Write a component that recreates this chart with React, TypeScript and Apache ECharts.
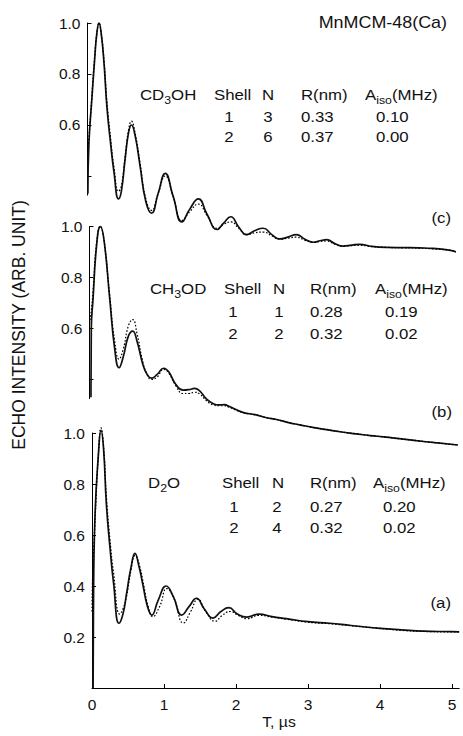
import { useEffect, useRef } from "react";
import * as echarts from "echarts";

// ---------- data ----------
const xTickValues = [0, 1, 2, 3, 4, 5];
const yTicksA = [0.2, 0.4, 0.6, 0.8, 1.0];
const yTicksBC = [0.4, 0.6, 0.8, 1.0];
const yLabelsBC = [0.6, 0.8, 1.0];

// panel (c) MnMCM-48(Ca) in CD3OH: experiment (solid) and simulation (dotted)
const expC: [number, number][] = [
  [0.005, 0.33], [0.02, 0.53], [0.06, 0.7], [0.1, 0.86], [0.13, 0.96], [0.16, 1.0], [0.19, 0.96],
  [0.23, 0.84], [0.27, 0.67], [0.32, 0.53], [0.37, 0.41], [0.43, 0.31], [0.47, 0.34], [0.52, 0.46],
  [0.57, 0.57], [0.61, 0.6], [0.66, 0.56], [0.73, 0.44], [0.81, 0.3], [0.89, 0.254], [0.98, 0.33],
  [1.08, 0.41], [1.19, 0.32], [1.31, 0.22], [1.42, 0.27], [1.54, 0.31], [1.66, 0.25], [1.8, 0.19],
  [1.89, 0.215], [1.99, 0.24], [2.1, 0.2], [2.21, 0.17], [2.32, 0.185], [2.44, 0.195], [2.56, 0.17],
  [2.67, 0.153], [2.78, 0.16], [2.9, 0.17], [3.02, 0.152], [3.14, 0.14], [3.23, 0.146], [3.32, 0.15],
  [3.44, 0.134], [3.55, 0.125], [3.67, 0.129], [3.78, 0.132], [3.95, 0.124], [4.15, 0.12],
  [4.4, 0.119], [4.6, 0.118], [4.8, 0.116], [5.0, 0.11], [5.15, 0.1],
];
const simC: [number, number][] = [
  [0.0, 0.5], [0.02, 0.55], [0.06, 0.71], [0.1, 0.87], [0.13, 0.96], [0.16, 1.0], [0.19, 0.96],
  [0.23, 0.85], [0.27, 0.69], [0.32, 0.55], [0.37, 0.43], [0.43, 0.34], [0.47, 0.36], [0.52, 0.47],
  [0.57, 0.58], [0.61, 0.615], [0.66, 0.57], [0.73, 0.45], [0.81, 0.31], [0.89, 0.265], [0.98, 0.33],
  [1.08, 0.4], [1.19, 0.32], [1.31, 0.225], [1.42, 0.26], [1.54, 0.29], [1.66, 0.245], [1.8, 0.195],
  [1.89, 0.21], [1.99, 0.22], [2.1, 0.195], [2.21, 0.17], [2.32, 0.177], [2.44, 0.18], [2.56, 0.165],
  [2.67, 0.152], [2.78, 0.156], [2.9, 0.16], [3.02, 0.148], [3.14, 0.14], [3.23, 0.143], [3.32, 0.145],
  [3.44, 0.132], [3.55, 0.125], [3.67, 0.127], [3.78, 0.128], [3.95, 0.123], [4.15, 0.12],
  [4.4, 0.118], [4.6, 0.117], [4.8, 0.114], [5.0, 0.11], [5.15, 0.104],
];

// panel (b) CH3OD
const expB: [number, number][] = [
  [0.02, 0.33], [0.025, 0.6], [0.05, 0.72], [0.1, 0.93], [0.15, 1.0], [0.2, 0.95], [0.28, 0.72],
  [0.35, 0.52], [0.41, 0.446], [0.47, 0.49], [0.54, 0.57], [0.6, 0.59], [0.66, 0.55], [0.74, 0.46],
  [0.8, 0.42], [0.86, 0.405], [0.94, 0.42], [1.03, 0.444], [1.1, 0.43], [1.2, 0.38], [1.3, 0.358],
  [1.38, 0.36], [1.46, 0.365], [1.53, 0.355], [1.62, 0.325], [1.72, 0.305], [1.8, 0.3], [1.87, 0.301],
  [1.95, 0.293], [2.05, 0.28], [2.14, 0.27], [2.3, 0.262], [2.46, 0.25], [2.6, 0.243], [2.75, 0.232],
  [2.92, 0.222], [3.1, 0.212], [3.3, 0.203], [3.48, 0.195], [3.7, 0.187], [3.9, 0.18], [4.08, 0.175],
  [4.3, 0.168], [4.54, 0.16], [4.8, 0.152], [5.12, 0.143],
];
const simB: [number, number][] = [
  [0.0, 0.62], [0.025, 0.67], [0.05, 0.75], [0.1, 0.94], [0.15, 1.0], [0.2, 0.95], [0.28, 0.73],
  [0.35, 0.55], [0.41, 0.48], [0.47, 0.52], [0.54, 0.61], [0.6, 0.635], [0.66, 0.58], [0.74, 0.47],
  [0.8, 0.42], [0.86, 0.4], [0.94, 0.41], [1.03, 0.44], [1.1, 0.425], [1.2, 0.375], [1.3, 0.345],
  [1.38, 0.345], [1.46, 0.35], [1.53, 0.343], [1.62, 0.318], [1.72, 0.3], [1.8, 0.297], [1.87, 0.297],
  [1.95, 0.29], [2.05, 0.278], [2.14, 0.27], [2.3, 0.262], [2.46, 0.25], [2.6, 0.243], [2.75, 0.232],
  [2.92, 0.222], [3.1, 0.212], [3.3, 0.203], [3.48, 0.195], [3.7, 0.187], [3.9, 0.18], [4.08, 0.175],
  [4.3, 0.168], [4.54, 0.16], [4.8, 0.152], [5.12, 0.143],
];

// panel (a) D2O
const expA: [number, number][] = [
  [0.015, 0.0], [0.02, 0.3], [0.04, 0.66], [0.09, 0.92], [0.125, 1.01], [0.16, 0.94], [0.2, 0.72],
  [0.25, 0.55], [0.3, 0.41], [0.375, 0.254], [0.43, 0.29], [0.48, 0.37], [0.54, 0.47], [0.597, 0.528],
  [0.65, 0.48], [0.71, 0.4], [0.77, 0.32], [0.83, 0.286], [0.92, 0.345], [1.03, 0.4], [1.13, 0.358],
  [1.245, 0.286], [1.35, 0.32], [1.45, 0.352], [1.56, 0.31], [1.68, 0.274], [1.79, 0.3], [1.9, 0.315],
  [2.02, 0.29], [2.15, 0.278], [2.32, 0.29], [2.5, 0.28], [2.7, 0.272], [3.0, 0.26], [3.3, 0.254],
  [3.6, 0.245], [4.0, 0.234], [4.3, 0.228], [4.6, 0.223], [5.0, 0.221], [5.1, 0.22],
];
const simA: [number, number][] = [
  [0.0, 0.3], [0.01, 0.45], [0.04, 0.64], [0.09, 0.92], [0.125, 1.02], [0.16, 0.95], [0.2, 0.75],
  [0.25, 0.58], [0.3, 0.45], [0.385, 0.29], [0.43, 0.31], [0.48, 0.36], [0.54, 0.46], [0.6, 0.52],
  [0.66, 0.48], [0.72, 0.4], [0.78, 0.32], [0.845, 0.28], [0.94, 0.32], [1.04, 0.39], [1.14, 0.35],
  [1.27, 0.255], [1.37, 0.3], [1.47, 0.348], [1.58, 0.3], [1.71, 0.262], [1.81, 0.285], [1.92, 0.3],
  [2.03, 0.285], [2.15, 0.272], [2.32, 0.285], [2.5, 0.278], [2.7, 0.27], [3.0, 0.258], [3.3, 0.252],
  [3.6, 0.244], [4.0, 0.234], [4.3, 0.226], [4.6, 0.222], [5.0, 0.22], [5.1, 0.22],
];

// annotation texts
const plotTitle = "MnMCM-48(Ca)";
const panelLabels = ["(c)", "(b)", "(a)"];
const solvents = ["CD{s|3}OH", "CH{s|3}OD", "D{s|2}O"];
const tableHeader = ["Shell", "N", "R(nm)", "A{s|iso}(MHz)"];
const rowsC = [["1", "3", "0.33", "0.10"], ["2", "6", "0.37", "0.00"]];
const rowsB = [["1", "1", "0.28", "0.19"], ["2", "2", "0.32", "0.02"]];
const rowsA = [["1", "2", "0.27", "0.20"], ["2", "4", "0.32", "0.02"]];
const yTitle = "ECHO INTENSITY (ARB. UNIT)";
const xTitle = "T, \u00b5s";

const FONT = "'Liberation Sans', Arial, Helvetica, sans-serif";
const INK = "#111";

function txt(x: number, y: number, text: string, opts: any = {}) {
  return {
    type: "text",
    x,
    y,
    scaleX: opts.scaleX ?? 1.12,
    rotation: opts.rotation ?? 0,
    style: {
      text,
      fill: INK,
      fontSize: opts.fontSize ?? 15,
      fontFamily: FONT,
      align: opts.align ?? "left",
      verticalAlign: "middle",
      lineHeight: 20,
      rich: {
        s: { fontSize: 11, lineHeight: 12, verticalAlign: "bottom", fontFamily: FONT, fill: INK },
      },
    },
  };
}

function tableGraphics(
  solvent: string,
  rows: string[][],
  sx: number,
  hx: number[],
  rx: number[],
  ys: number[]
) {
  const out: any[] = [txt(sx, ys[0], solvent)];
  tableHeader.forEach((h, i) => out.push(txt(hx[i], ys[0], h)));
  rows.forEach((r, ri) => {
    r.forEach((c, ci) => {
      out.push(txt(rx[ci], ys[ri + 1], c, ci < 2 ? { align: "center" } : {}));
    });
  });
  return out;
}

export default function App() {
  const ref = useRef<HTMLDivElement>(null);

  useEffect(() => {
    if (!ref.current) return;
    const chart = echarts.init(ref.current, null, { renderer: "svg" });

    const W = 72 * 5.1;
    const grids = [
      { left: 87.5, top: 23, width: W, height: 172.1 },
      { left: 89.5, top: 226.5, width: W, height: 172.1 },
      { left: 92, top: 433, width: W, height: 255 },
    ].map((g) => ({ ...g, containLabel: false, outerBoundsMode: "none" }));

    const xAxes = [0, 1, 2].map((i) => ({
      gridIndex: i,
      type: "value",
      min: 0,
      max: 5.1,
      show: i === 2,
      axisLine: { show: true, onZero: false, lineStyle: { color: "#000", width: 1 } },
      axisTick: {
        show: true,
        inside: true,
        length: 4,
        customValues: xTickValues,
        lineStyle: { color: "#000" },
      },
      axisLabel: {
        customValues: xTickValues,
        formatter: (v: number) => (Number.isInteger(v) ? String(v) : ""),
        margin: 8,
        fontSize: 15.5,
        color: INK,
        fontFamily: FONT,
      },
      splitLine: { show: false },
    }));

    const yAxes = [0, 1, 2].map((i) => ({
      gridIndex: i,
      type: "value",
      min: i === 2 ? 0 : 0.325,
      max: 1.0,
      axisLine: { show: true, onZero: false, lineStyle: { color: "#000", width: 1 } },
      axisTick: {
        show: true,
        inside: true,
        length: 4,
        customValues: i === 2 ? yTicksA : yTicksBC,
        lineStyle: { color: "#000" },
      },
      axisLabel: {
        customValues: i === 2 ? yTicksA : yLabelsBC,
        formatter: (v: number) => v.toFixed(1),
        margin: 7,
        fontSize: 15.5,
        color: INK,
        fontFamily: FONT,
      },
      splitLine: { show: false },
    }));

    const mk = (data: [number, number][], idx: number, sim: boolean) => ({
      type: "line",
      xAxisIndex: idx,
      yAxisIndex: idx,
      data,
      symbol: "none",
      showSymbol: false,
      clip: false,
      smooth: 0.5,
      z: sim ? 3 : 2,
      lineStyle: sim
        ? { color: "#000", width: 1.2, type: [1.6, 1.8] }
        : { color: "#111", width: 1.7 },
    });

    const graphic: any[] = [
      txt(447, 23, plotTitle, { align: "right", fontSize: 16 }),
      txt(451, 218, panelLabels[0], { align: "right" }),
      txt(452, 412, panelLabels[1], { align: "right" }),
      txt(451, 603, panelLabels[2], { align: "right" }),
      ...tableGraphics(solvents[0], rowsC, 140, [214, 262, 301, 365], [229, 268, 301, 376], [95, 116.5, 137]),
      ...tableGraphics(solvents[1], rowsB, 150, [224, 273, 310, 375], [233, 279, 310, 385], [289, 312, 334]),
      ...tableGraphics(solvents[2], rowsA, 148, [222, 272, 310, 373], [234, 277, 310, 383], [483, 507, 528]),
      txt(19, 325, yTitle, { align: "center", rotation: Math.PI / 2, scaleX: 1, fontSize: 17.5 }),
      txt(279, 722, xTitle, { align: "center", scaleX: 1.05, fontSize: 15 }),
    ];

    chart.setOption({
      animation: false,
      backgroundColor: "#fff",
      grid: grids,
      xAxis: xAxes,
      yAxis: yAxes,
      series: [
        mk(expC, 0, false),
        mk(simC, 0, true),
        mk(expB, 1, false),
        mk(simB, 1, true),
        mk(expA, 2, false),
        mk(simA, 2, true),
      ],
      graphic,
    });

    return () => chart.dispose();
  }, []);

  return <div ref={ref} style={{ width: 463, height: 736, position: "absolute", left: 0, top: 0 }} />;
}
